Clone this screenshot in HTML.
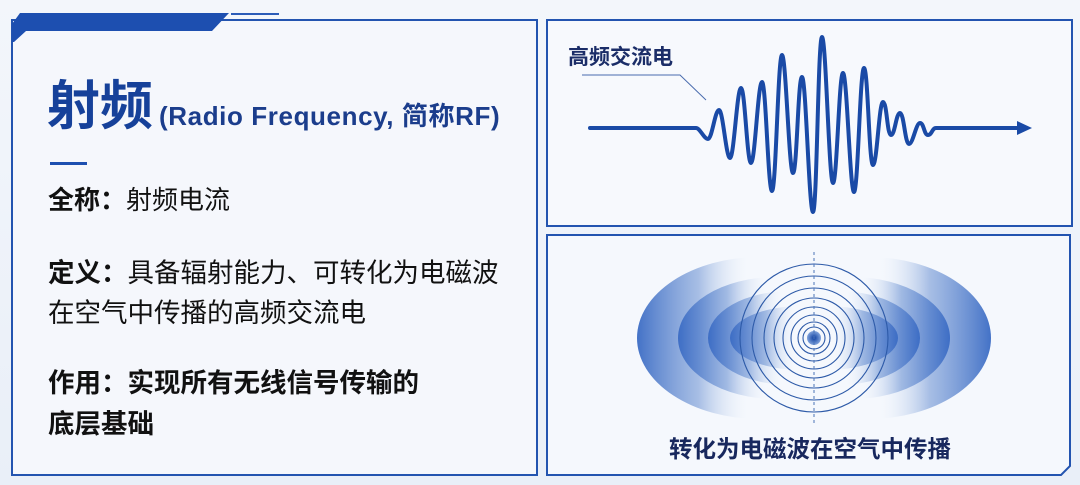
<!DOCTYPE html>
<html><head><meta charset="utf-8"><style>
html,body{margin:0;padding:0}
body{width:1080px;height:485px;overflow:hidden;background:linear-gradient(180deg,#f3f6fb,#e9eff8);position:relative;font-family:"Liberation Sans","Noto Sans CJK SC",sans-serif}
.t{position:absolute;white-space:nowrap;line-height:1}
</style></head><body>
<svg width="1080" height="485" style="position:absolute;left:0;top:0">
<defs>
<linearGradient id="gl" x1="0" y1="0" x2="1" y2="0">
<stop offset="0" stop-color="#3a6bc4" stop-opacity="0.95"/>
<stop offset="0.5" stop-color="#7d9fd8" stop-opacity="0.65"/>
<stop offset="0.9" stop-color="#e4ecf8" stop-opacity="0"/>
</linearGradient>
<linearGradient id="gr" x1="1" y1="0" x2="0" y2="0">
<stop offset="0" stop-color="#3a6bc4" stop-opacity="0.95"/>
<stop offset="0.5" stop-color="#7d9fd8" stop-opacity="0.65"/>
<stop offset="0.9" stop-color="#e4ecf8" stop-opacity="0"/>
</linearGradient>
<radialGradient id="dot"><stop offset="0" stop-color="#0d3ea0"/><stop offset="1" stop-color="#7fa2dc"/></radialGradient>
</defs>
<rect x="12" y="20" width="525" height="455" fill="#f5f7fc" stroke="#2354b0" stroke-width="2"/>
<polygon points="20,13 229,13 212,31 26,31 14,42 12,42 12,24" fill="#1d4fb0"/>
<line x1="231" y1="14" x2="279" y2="14" stroke="#2c5cb8" stroke-width="2"/>
<rect x="50" y="162" width="37" height="3" fill="#1d4fb0"/>
<rect x="547" y="20" width="525" height="206" fill="#f7f9fd" stroke="#2354b0" stroke-width="2"/>
<polyline points="582,75 680,75 706,100" fill="none" stroke="#4a6cae" stroke-width="1"/>
<path d="M590 128 L696 128 C700 128 704 139 708 139 S715 110 719 110 S726 158 730 158 S737 88 741 88 S747 163 751 163 S758 82 762 82 S768 191 772 191 S778 55 782 55 S789 173 793 173 S798 77 802 77 S809 212 813 212 S818 37 822 37 S829 183 833 183 S839 73 843 73 S850 192 854 192 S860 68 864 68 S869 165 873 165 S879 102 883 102 S887 135 891 135 S896 113 900 113 S905 144 909 144 S916 123 920 123 S924 135 928 135 S932 128 936 128 L1020 128" fill="none" stroke="#1a4aa6" stroke-width="4" stroke-linejoin="round" stroke-linecap="round"/>
<polygon points="1017,121 1032,128 1017,135" fill="#1a4aa6"/>
<path d="M547 235 H1070 V466 L1061 475 H547 Z" fill="#f5f8fd" stroke="#2354b0" stroke-width="2"/>
<g>
<path d="M760 257 A123 81 0 0 0 760 419 Z" fill="url(#gl)"/>
<path d="M776 277 A98 61 0 0 0 776 399 Z" fill="url(#gl)"/>
<path d="M790 291 A82 47 0 0 0 790 385 Z" fill="url(#gl)"/>
<path d="M802 306 A72 32 0 0 0 802 370 Z" fill="url(#gl)"/>
<path d="M868 257 A123 81 0 0 1 868 419 Z" fill="url(#gr)"/>
<path d="M852 277 A98 61 0 0 1 852 399 Z" fill="url(#gr)"/>
<path d="M838 291 A82 47 0 0 1 838 385 Z" fill="url(#gr)"/>
<path d="M826 306 A72 32 0 0 1 826 370 Z" fill="url(#gr)"/>
</g>
<g fill="none" stroke="#2d5aa8" stroke-width="1.1">
<circle cx="814" cy="338" r="74"/>
<circle cx="814" cy="338" r="62"/>
<circle cx="814" cy="338" r="50"/>
<circle cx="814" cy="338" r="40"/>
<circle cx="814" cy="338" r="31"/>
<circle cx="814" cy="338" r="23"/>
<circle cx="814" cy="338" r="16"/>
<circle cx="814" cy="338" r="11"/>
</g>
<circle cx="814" cy="338" r="7" fill="url(#dot)"/>
<line x1="814" y1="252" x2="814" y2="426" stroke="#4b74b8" stroke-width="1" stroke-dasharray="3,3"/>
</svg>
<div class="t" style="left:47px;top:80px;font-size:53px;font-weight:bold;color:#16419a">射频</div>
<div class="t" style="left:159px;top:103px;font-size:26px;color:#1b3d8c;font-weight:bold;letter-spacing:0.6px">(Radio Frequency, 简称RF)</div>
<div class="t" style="left:48px;top:187px;font-size:26px;color:#111"><b>全称：</b>射频电流</div>
<div class="t" style="left:48px;top:260px;font-size:26.5px;color:#111"><b>定义：</b>具备辐射能力、可转化为电磁波</div>
<div class="t" style="left:48px;top:300px;font-size:26.5px;color:#111">在空气中传播的高频交流电</div>
<div class="t" style="left:48px;top:370px;font-size:26.5px;color:#111;font-weight:bold">作用：实现所有无线信号传输的</div>
<div class="t" style="left:48px;top:411px;font-size:26.5px;color:#111;font-weight:bold">底层基础</div>
<div class="t" style="left:568px;top:47px;font-size:21px;color:#1b2d68;font-weight:bold">高频交流电</div>
<div class="t" style="left:669px;top:438px;font-size:23.5px;color:#18285e;font-weight:bold">转化为电磁波在空气中传播</div>
</body></html>
